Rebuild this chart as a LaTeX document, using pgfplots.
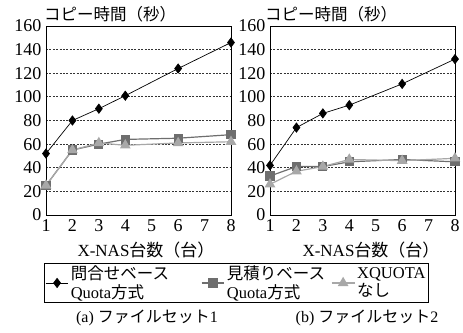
\documentclass[border=0pt]{standalone}
\usepackage{fontspec}
\setmainfont{Liberation Serif}
\newfontfamily\jp{Noto Sans CJK JP}
\usepackage{pgfplots}
\pgfplotsset{compat=1.18}
\definecolor{sq}{HTML}{6E6E6E}
\definecolor{tr}{HTML}{A8A8A8}
\pgfplotsset{
 base/.style={
  scale only axis, width=185pt, height=189pt,
  xmin=1,xmax=8,ymin=0,ymax=160,
  xtick={1,...,8}, ytick={0,20,...,160},
  major tick length=0pt,
  ymajorgrids, grid style={black!80, dash pattern=on 2pt off 1.4pt, line width=0.8pt},
  axis line style={line width=0.8pt},
  tick label style={font=\fontsize{18}{18}\selectfont},
  /pgf/number format/assume math mode=true,
  yticklabel style={xshift=-1pt},
  xticklabel style={yshift=-1pt},
  clip=false,
 },
 s1/.style={black, line width=0.7pt, mark=diamond*, mark size=4.6pt, mark options={fill=black}},
 s2/.style={sq, line width=1.2pt, mark=square*, mark size=4pt, mark options={fill=sq, draw=sq}},
 s3/.style={tr, line width=1.2pt, mark=triangle*, mark size=5pt, mark options={fill=tr, draw=tr}},
}
\begin{document}
\begin{tikzpicture}
\path[use as bounding box] (0,0) rectangle (463pt,-332pt);
\begin{axis}[base, at={(46pt,-215pt)}, anchor=south west,
  legend columns=3,
  legend style={at={(-0.011,-0.252)}, anchor=north west, draw=black, line width=0.8pt,
    font=\fontsize{16.5}{18.5}\selectfont, cells={align=left}, inner sep=1pt,
    /tikz/column 2/.style={column sep=30pt},
    /tikz/column 4/.style={column sep=4pt}},
  legend image code/.code={\draw[mark repeat=2,mark phase=2] plot coordinates {(0cm,0cm) (0.4cm,0cm) (0.8cm,0cm)};},
]
\addplot[s1] coordinates {(1,52) (2,80) (3,90) (4,101) (6,124) (8,146)};
\addlegendentry{{\jp 問合せベース}\\Quota{\jp 方式}}
\addplot[s2] coordinates {(1,25) (2,55) (3,60) (4,64) (6,65) (8,68)};
\addlegendentry{{\jp 見積りベース}\\Quota{\jp 方式}}
\addplot[s3] coordinates {(1,25) (2,55) (3,61) (4,59) (6,61) (8,62)};
\addlegendentry{XQUOTA\\{\jp なし}}
\end{axis}
\begin{axis}[base, at={(270pt,-215pt)}, anchor=south west]
\addplot[s1] coordinates {(1,42) (2,74) (3,86) (4,93) (6,111) (8,132)};
\addplot[s2] coordinates {(1,33) (2,41) (3,41) (4,45) (6,47) (8,45)};
\addplot[s3] coordinates {(1,26) (2,37) (3,41) (4,47) (6,46) (8,48)};
\end{axis}
\node[font=\fontsize{16.5}{18}\selectfont\jp] at (110pt,-14pt) {コピー時間（秒）};
\node[font=\fontsize{16.5}{18}\selectfont\jp] at (331pt,-14pt) {コピー時間（秒）};
\node[font=\fontsize{17}{18}\selectfont] at (146pt,-250pt) {X-NAS{\jp 台数（台）}};
\node[font=\fontsize{17}{18}\selectfont] at (371pt,-250pt) {X-NAS{\jp 台数（台）}};
\node[font=\fontsize{16}{18}\selectfont] at (147pt,-318pt) {(a) {\jp ファイルセット}1};
\node[font=\fontsize{16}{18}\selectfont] at (367pt,-318pt) {(b) {\jp ファイルセット}2};
\end{tikzpicture}
\end{document}
